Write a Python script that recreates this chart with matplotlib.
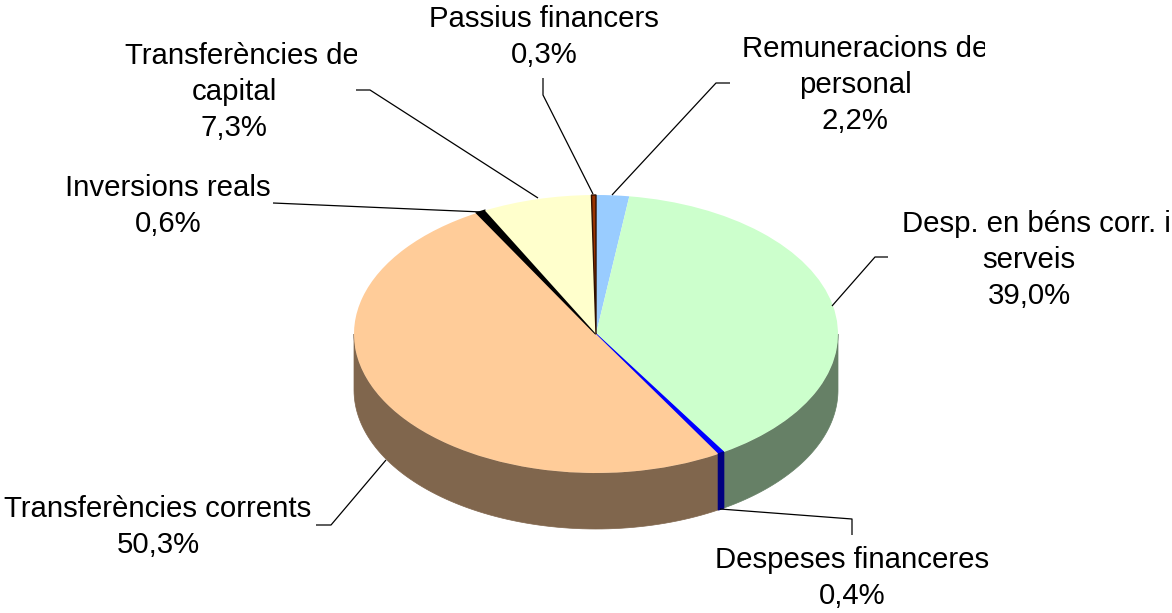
import numpy as np
import matplotlib
matplotlib.use("Agg")
import matplotlib.pyplot as plt
from matplotlib.transforms import Bbox

labels = ["Remuneracions de\npersonal", "Desp. en béns corr. i\nserveis", "Despeses financeres",
          "Transferències corrents", "Inversions reals", "Transferències de\ncapital", "Passius financers"]
values = [2.2, 39.0, 0.4, 50.3, 0.6, 7.3, 0.3]
colors = ["#99CCFF", "#CCFFCC", "#0000FF", "#FFCC99", "#000000", "#FFFFCC", "#993300"]

W, H = 1172, 613
cx, cy, rx, ry, depth = 596, 334, 242, 139, 56

plt.rcParams["font.family"] = ["Liberation Sans", "DejaVu Sans"]
fig = plt.figure(figsize=(W / 100, H / 100), dpi=100)

# pie axes: unit circle maps to the flattened ellipse
ax = fig.add_axes([0, 0, 1, 1])
wedges, _ = ax.pie(values, colors=colors, startangle=90, counterclock=False, radius=1, center=(0, 0), frame=True)
ax.set_aspect("auto")
ax.set_xlim(-cx / rx, (W - cx) / rx)
ax.set_ylim((cy - H) / ry, cy / ry)
ax.axis("off")

# the thin slices look wider in the original
wedges[2].set(edgecolor="#0000FF", lw=1.0, joinstyle="miter")
wedges[4].set(edgecolor="#000000", lw=1.4)
wedges[6].set(edgecolor="#301000", lw=1.0)

# side wall of the pie, half the brightness of the top
frac = np.array(values) / sum(values)
edges = 90 - 360 * np.concatenate([[0], np.cumsum(frac)])
d = depth / ry
for i in range(len(values)):
    a0 = max(edges[i + 1], -180)
    a1 = min(edges[i], 0)
    if a1 <= a0:
        continue
    t = np.radians(np.linspace(a0, a1, 80))
    xs = np.concatenate([np.cos(t), np.cos(t[::-1])])
    ys = np.concatenate([np.sin(t), np.sin(t[::-1]) - d])
    rgb = np.array(matplotlib.colors.to_rgb(colors[i])) * 0.5
    ax.fill(xs, ys, color=rgb, lw=1.0 if i == 2 else 0.5, zorder=3 if i == 2 else 0)

# overlay in pixel coordinates for labels and leader lines
ov = fig.add_axes([0, 0, 1, 1])
ov.set_xlim(0, W)
ov.set_ylim(H, 0)
ov.axis("off")
ov.patch.set_alpha(0)

leaders = [
    [(730, 83), (716, 83), (612, 195)],
    [(888, 257), (875, 257), (832, 306)],
    [(852, 535), (852, 519), (720, 509)],
    [(316, 525), (331, 525), (386, 460)],
    [(273, 203), (482, 212)],
    [(356, 90), (370, 90), (538, 198)],
    [(543, 78), (543, 95), (593, 194)],
]
for pts in leaders:
    px, py = zip(*pts)
    ov.plot(px, py, color="black", lw=0.9, solid_capstyle="butt")

# (center x, first baseline y, left x of a clipped first line, clip x)
places = [
    (855, 57, 742, 985),
    (1029, 232, 902, 1170),
    (852, 568, None, None),
    (158, 517, None, None),
    (168, 196, None, None),
    (234, 64, 125, 357),
    (544, 27, None, None),
]
line_h = 36
fs = 21.2
for name, val, (xc, y0, xl, clip) in zip(labels, values, places):
    lines = name.split("\n") + [f"{val:.1f}%".replace(".", ",")]
    for j, line in enumerate(lines):
        y = y0 + j * line_h
        if j == 0 and xl is not None:
            t = ov.text(xl, y, line, ha="left", va="baseline", fontsize=fs, color="black")
            t.set_clip_on(True)
            t.set_clip_box(Bbox([[0, 0], [clip, H]]))
        else:
            ov.text(xc, y, line, ha="center", va="baseline", fontsize=fs, color="black")

fig.savefig("out.png", dpi=100, facecolor="white")
